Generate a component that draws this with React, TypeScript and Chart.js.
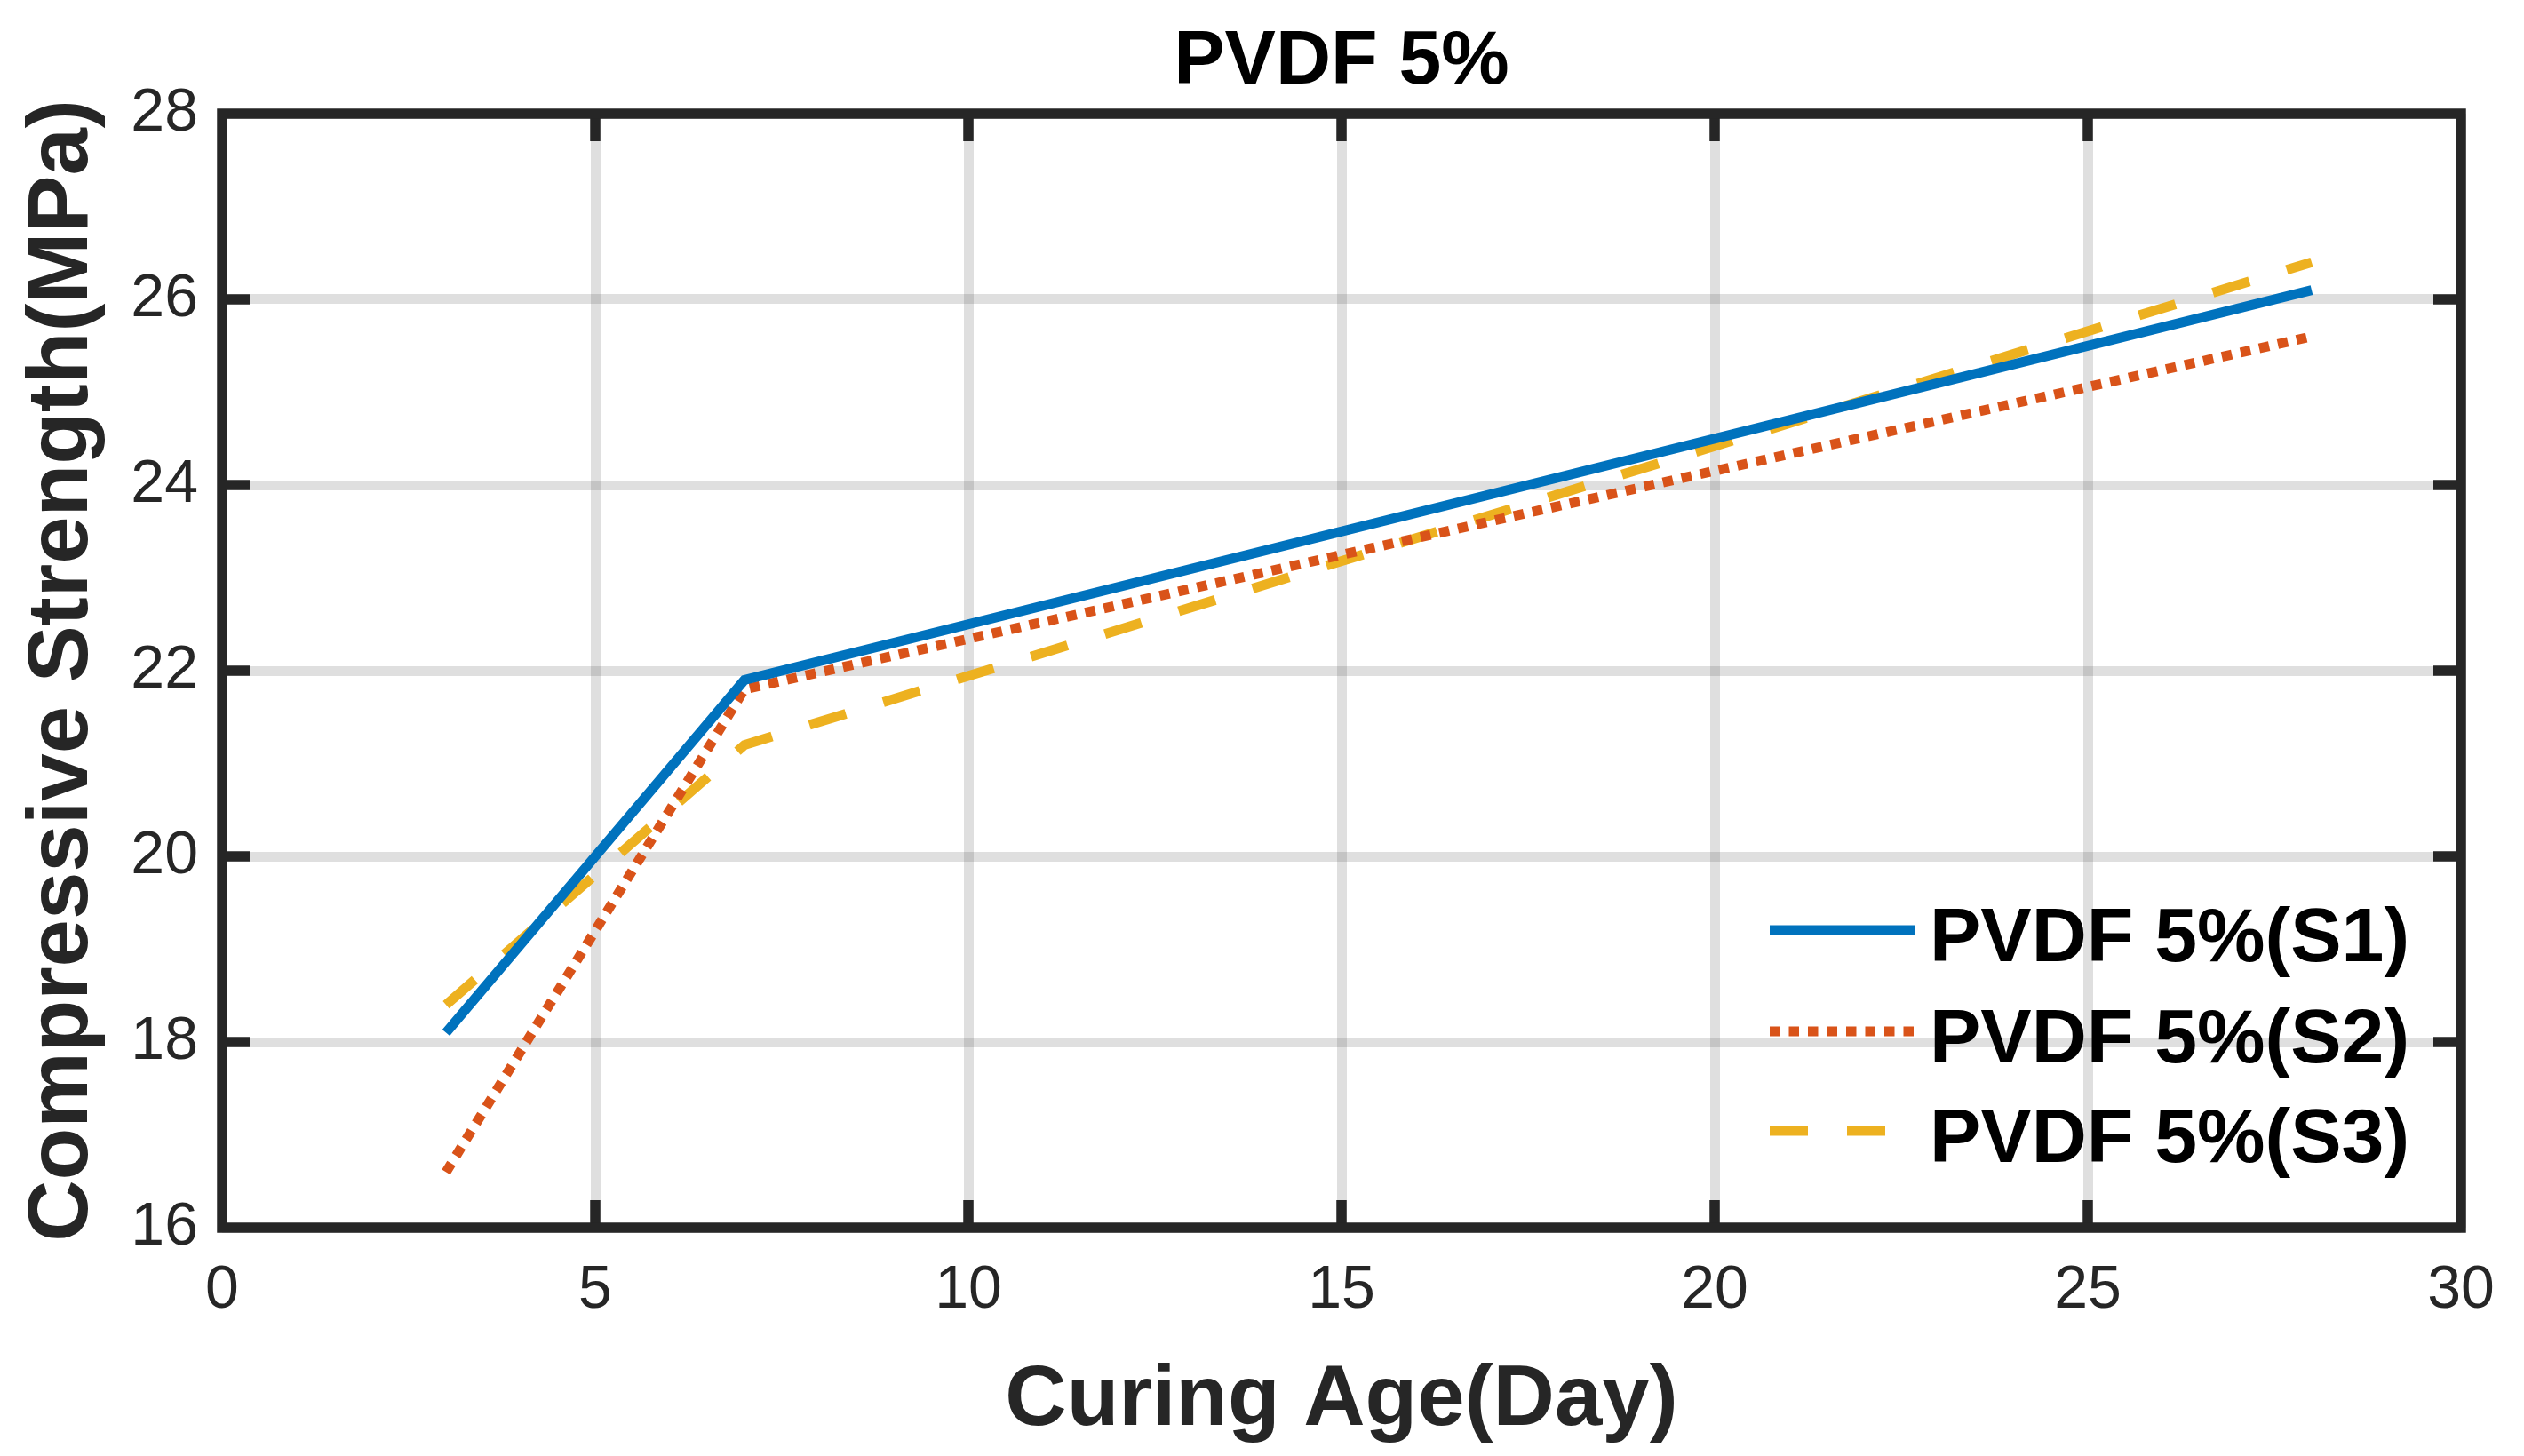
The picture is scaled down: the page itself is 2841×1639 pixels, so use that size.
import React, { useEffect, useRef } from "react";
import { Chart, registerables } from "chart.js";

Chart.register(...registerables);

const curingDays = [3, 7, 28];
const s1Strength = [18.1, 21.9, 26.1];
const s2Strength = [16.6, 21.8, 25.6];
const s3Strength = [18.4, 21.2, 26.4];
const seriesLabels = ["PVDF 5%(S1)", "PVDF 5%(S2)", "PVDF 5%(S3)"];
const chartTitle = "PVDF 5%";
const xTitle = "Curing Age(Day)";
const yTitle = "Compressive Strength(MPa)";

const FONT = "'Liberation Sans', Arial, Helvetica, sans-serif";
const AX = "#262626";

const frameTicksPlugin = {
  id: "frameTicks",
  afterDatasetsDraw(chart: any) {
    const { ctx, chartArea } = chart;
    const { left, right, top, bottom } = chartArea;
    const xs = chart.scales.x;
    const ys = chart.scales.y;
    const lw = 11.5;
    const tl = 31;
    ctx.save();
    ctx.strokeStyle = AX;
    ctx.lineWidth = lw;
    ctx.lineCap = "butt";
    ctx.beginPath();
    xs.ticks.forEach((t: any) => {
      const p = xs.getPixelForValue(t.value);
      if (p <= left + 1 || p >= right - 1) return;
      ctx.moveTo(p, bottom);
      ctx.lineTo(p, bottom - tl);
      ctx.moveTo(p, top);
      ctx.lineTo(p, top + tl);
    });
    ys.ticks.forEach((t: any) => {
      const p = ys.getPixelForValue(t.value);
      if (p <= top + 1 || p >= bottom - 1) return;
      ctx.moveTo(left, p);
      ctx.lineTo(left + tl, p);
      ctx.moveTo(right, p);
      ctx.lineTo(right - tl, p);
    });
    ctx.stroke();
    ctx.lineJoin = "miter";
    ctx.strokeRect(left, top, right - left, bottom - top);
    ctx.restore();
  },
};

const customLegendPlugin = {
  id: "customLegend",
  afterDraw(chart: any) {
    const { ctx, chartArea } = chart;
    const { left, right, top, bottom } = chartArea;
    ctx.save();
    // title centred over the axes
    ctx.fillStyle = "#000000";
    ctx.font = `bold 86px ${FONT}`;
    ctx.textAlign = "center";
    ctx.textBaseline = "alphabetic";
    ctx.fillText(chartTitle, (left + right) / 2, top - 34);

    const rows = [bottom - 335, bottom - 221, bottom - 109];
    const x0 = right - 778;
    const x1 = right - 615;
    const tx = right - 598;
    chart.data.datasets.forEach((ds: any, i: number) => {
      const y = rows[i];
      ctx.strokeStyle = ds.borderColor;
      ctx.lineWidth = ds.borderWidth;
      ctx.lineCap = "butt";
      ctx.setLineDash(ds.borderDash || []);
      ctx.beginPath();
      ctx.moveTo(x0, y);
      ctx.lineTo(x1, y);
      ctx.stroke();
      ctx.setLineDash([]);
      ctx.fillStyle = "#000000";
      ctx.font = `bold 86px ${FONT}`;
      ctx.textAlign = "left";
      ctx.textBaseline = "alphabetic";
      ctx.fillText(ds.label, tx, y + 35);
    });
    ctx.restore();
  },
};

export default function App() {
  const canvasRef = useRef<HTMLCanvasElement | null>(null);

  useEffect(() => {
    const canvas = canvasRef.current;
    if (!canvas) return;
    const toPts = (vals: number[]) => curingDays.map((d, i) => ({ x: d, y: vals[i] }));
    const chart = new Chart(canvas, {
      type: "line",
      data: {
        datasets: [
          {
            label: seriesLabels[0],
            data: toPts(s1Strength),
            borderColor: "#0072BD",
            borderWidth: 11,
            pointRadius: 0,
            tension: 0,
            borderCapStyle: "butt",
          },
          {
            label: seriesLabels[1],
            data: toPts(s2Strength),
            borderColor: "#D95319",
            borderWidth: 11,
            borderDash: [11.5, 10],
            pointRadius: 0,
            tension: 0,
            borderCapStyle: "butt",
          },
          {
            label: seriesLabels[2],
            data: toPts(s3Strength),
            borderColor: "#EDB120",
            borderWidth: 11,
            borderDash: [43, 44],
            pointRadius: 0,
            tension: 0,
            borderCapStyle: "butt",
          },
        ],
      },
      options: {
        animation: false,
        responsive: false,
        devicePixelRatio: 1,
        layout: { padding: { left: 0, right: 71, top: 128, bottom: 0 } },
        plugins: {
          legend: { display: false },
          tooltip: { enabled: false },
          title: { display: false },
        },
        scales: {
          x: {
            type: "linear",
            min: 0,
            max: 30,
            ticks: {
              stepSize: 5,
              color: AX,
              padding: 30,
              font: { family: FONT, size: 68 },
              maxRotation: 0,
            },
            grid: {
              color: "rgba(38,38,38,0.15)",
              lineWidth: 11,
              drawTicks: false,
            },
            border: { display: false },
            title: {
              display: true,
              text: xTitle,
              color: AX,
              font: { family: FONT, size: 96, weight: "bold" },
              padding: { top: 0, bottom: 3.4 },
            },
            afterFit: (scale: any) => {
              scale.height = 257;
            },
          },
          y: {
            type: "linear",
            min: 16,
            max: 28,
            ticks: {
              stepSize: 2,
              color: AX,
              padding: 27,
              font: { family: FONT, size: 68 },
            },
            grid: {
              color: "rgba(38,38,38,0.15)",
              lineWidth: 11,
              drawTicks: false,
            },
            border: { display: false },
            title: {
              display: true,
              text: yTitle,
              color: AX,
              font: { family: FONT, size: 96, weight: "bold" },
              padding: { top: 14.4, bottom: 0 },
            },
            afterFit: (scale: any) => {
              scale.width = 250;
            },
          },
        },
      },
      plugins: [frameTicksPlugin, customLegendPlugin],
    } as any);
    return () => chart.destroy();
  }, []);

  return (
    <div style={{ position: "fixed", left: 0, top: 0, width: 2841, height: 1639, background: "#ffffff" }}>
      <canvas ref={canvasRef} width={2841} height={1639} style={{ display: "block", width: 2841, height: 1639 }} />
    </div>
  );
}
